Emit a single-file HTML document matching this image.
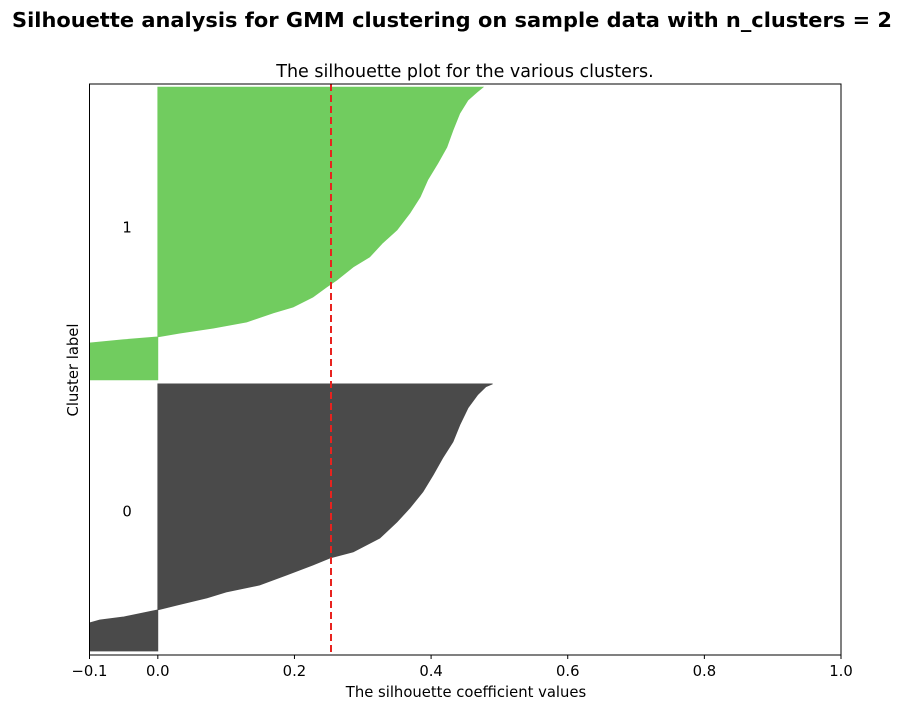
<!DOCTYPE html>
<html><head><meta charset="utf-8"><style>
body{margin:0;background:#fff;width:904px;height:714px;overflow:hidden}
svg text{font-family:"DejaVu Sans","Liberation Sans",sans-serif;fill:#000}
</style></head><body>
<svg id="chart" width="904" height="714" xmlns="http://www.w3.org/2000/svg">
<text x="452" y="27" text-anchor="middle" font-size="20.8" font-weight="bold" textLength="880" lengthAdjust="spacingAndGlyphs">Silhouette analysis for GMM clustering on sample data with n_clusters = 2</text>
<text x="465" y="77" text-anchor="middle" font-size="17.5">The silhouette plot for the various clusters.</text>
<text x="466" y="697" text-anchor="middle" font-size="14.8">The silhouette coefficient values</text>
<text transform="translate(78,370) rotate(-90)" text-anchor="middle" font-size="14.8">Cluster label</text>
<defs><clipPath id="pc"><rect x="89.5" y="84" width="751.5" height="571"/></clipPath></defs>
<g id="marks" clip-path="url(#pc)"></g>
<g id="axes"></g>
</svg>
<script>
const clusterLabels = ["0", "1"];
const clusterSizes = [669, 733];
const clusterColors = ["#4a4a4a", "#71cc5f"];
const cluster0Frac = [0, 0.105, 0.116, 0.127, 0.142, 0.154, 0.172, 0.199, 0.221, 0.247, 0.285, 0.322, 0.348, 0.371, 0.423, 0.483, 0.536, 0.596, 0.659, 0.723, 0.783, 0.846, 0.910, 0.959, 0.989, 1.0];
const cluster0Vals = [-0.12, -0.1, -0.085, -0.051, -0.022, 0, 0.028, 0.072, 0.10, 0.149, 0.189, 0.227, 0.252, 0.286, 0.325, 0.35, 0.369, 0.388, 0.403, 0.417, 0.432, 0.442, 0.454, 0.468, 0.48, 0.49];
const cluster1Frac = [0, 0.126, 0.137, 0.147, 0.160, 0.177, 0.198, 0.229, 0.249, 0.283, 0.317, 0.341, 0.386, 0.420, 0.468, 0.512, 0.570, 0.625, 0.683, 0.741, 0.795, 0.853, 0.911, 0.956, 0.983, 1.0];
const cluster1Vals = [-0.12, -0.1, -0.051, 0, 0.032, 0.081, 0.13, 0.169, 0.198, 0.227, 0.247, 0.262, 0.286, 0.31, 0.329, 0.35, 0.369, 0.384, 0.395, 0.41, 0.423, 0.432, 0.442, 0.454, 0.467, 0.476];
const averageScore = 0.2535;
const xTicks = [-0.1, 0.0, 0.2, 0.4, 0.6, 0.8, 1.0];
const xTickLabels = ["\u22120.1", "0.0", "0.2", "0.4", "0.6", "0.8", "1.0"];

const NS = "http://www.w3.org/2000/svg";
const L = 89.5, R = 841, T = 84, B = 655;
const xMin = -0.1, xMax = 1.0, yMax = 1430;
const xs = v => L + (v - xMin) / (xMax - xMin) * (R - L);
const ys = v => B - v / yMax * (B - T);
const marks = document.getElementById("marks");
const axes = document.getElementById("axes");
function mk(tag, attrs, parent) {
  const e = document.createElementNS(NS, tag);
  for (const k in attrs) e.setAttribute(k, attrs[k]);
  parent.appendChild(e);
  return e;
}
const fracs = [cluster0Frac, cluster1Frac];
const vals = [cluster0Vals, cluster1Vals];
let yLower = 10;
for (let c = 0; c < 2; c++) {
  const size = clusterSizes[c];
  const pts = [[xs(0), ys(yLower)]];
  for (let i = 0; i < fracs[c].length; i++) pts.push([xs(vals[c][i]), ys(yLower + fracs[c][i] * size)]);
  pts.push([xs(0), ys(yLower + size)]);
  const p = mk("polygon", {points: pts.map(q => q.join(",")).join(" "), fill: clusterColors[c], stroke: clusterColors[c], "stroke-width": 0.8}, marks);
  
  
  const t = mk("text", {x: xs(-0.045), y: ys(yLower + 0.5 * size) - 1, "text-anchor": "middle", "font-size": 14.8}, axes);
  t.textContent = clusterLabels[c];
  
  
  yLower += size + 10;
}
const avg = mk("line", {x1: xs(averageScore), x2: xs(averageScore), y1: T, y2: B, stroke: "#e8231f", "stroke-width": 2, "stroke-dasharray": "7,4"}, marks);


const frame = mk("rect", {x: L, y: T, width: R - L, height: B - T, fill: "none", stroke: "#000", "stroke-width": 1}, axes);


xTicks.forEach((v, i) => {
  const tk = mk("line", {x1: xs(v), x2: xs(v), y1: B, y2: B + 4, stroke: "#000", "stroke-width": 1}, axes);
  
  
  const tl = mk("text", {x: xs(v), y: B + 21, "text-anchor": "middle", "font-size": 14.8}, axes);
  tl.textContent = xTickLabels[i];
  
  
});
</script>
</body></html>
